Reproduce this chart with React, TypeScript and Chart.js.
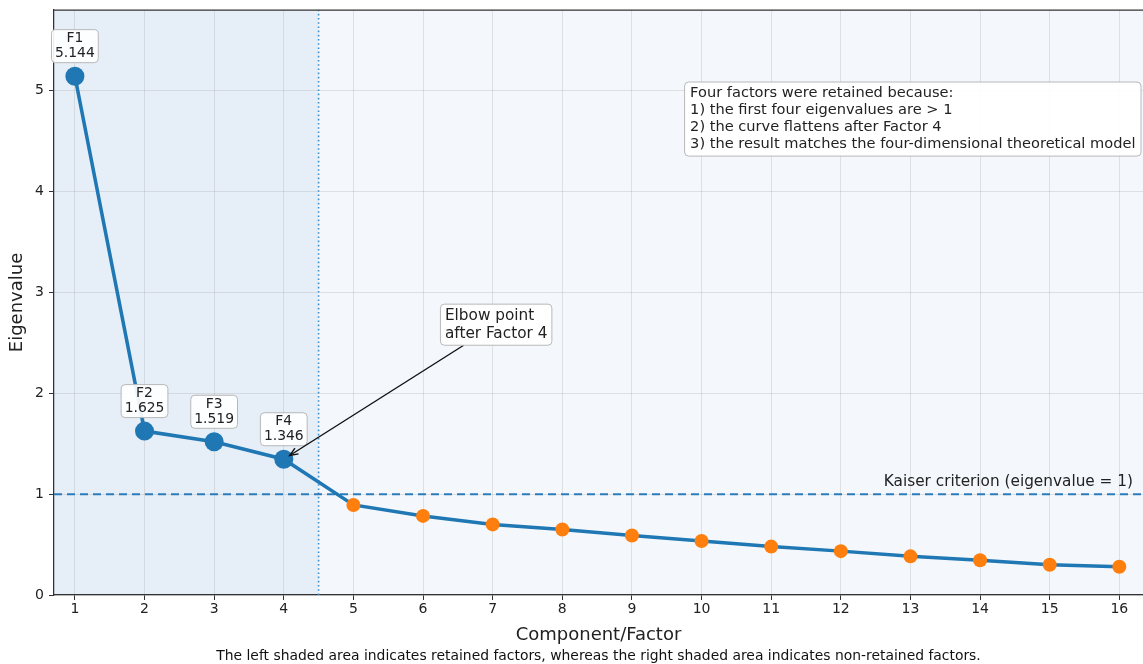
import React, { useEffect, useRef } from "react";
import { Chart, registerables } from "chart.js";

Chart.register(...registerables);

// ---------- data ----------
const factors = [1, 2, 3, 4, 5, 6, 7, 8, 9, 10, 11, 12, 13, 14, 15, 16];
const eigenvalues = [5.144, 1.625, 1.519, 1.346, 0.893, 0.784, 0.70, 0.65, 0.59, 0.535, 0.48, 0.435, 0.383, 0.345, 0.30, 0.28];
const retainedCount = 4;
const xTicks = [1, 2, 3, 4, 5, 6, 7, 8, 9, 10, 11, 12, 13, 14, 15, 16];
const yTicks = [0, 1, 2, 3, 4, 5];
const kaiserThreshold = 1;
const retainCutoff = 4.5;
const kaiserLabel = "Kaiser criterion (eigenvalue = 1)";
const elbowLines = ["Elbow point", "after Factor 4"];
const noteLines = [
  "Four factors were retained because:",
  "1) the first four eigenvalues are > 1",
  "2) the curve flattens after Factor 4",
  "3) the result matches the four-dimensional theoretical model",
];
const xTitle = "Component/Factor";
const yTitle = "Eigenvalue";
const caption =
  "The left shaded area indicates retained factors, whereas the right shaded area indicates non-retained factors.";

// ---------- layout / style ----------
const X_MIN = 0.7;
const X_MAX = 16.34;
const Y_MIN = 0;
const Y_MAX = 5.8;
const ELBOW_TEXT_CENTER = { x: 7.05, y: 2.68 };
const FONT = "'DejaVu Sans', 'Liberation Sans', sans-serif";
const BLUE = "#1f77b4";
const ORANGE = "#ff7f0e";

function roundRect(ctx: CanvasRenderingContext2D, x: number, y: number, w: number, h: number, r: number) {
  ctx.beginPath();
  ctx.moveTo(x + r, y);
  ctx.lineTo(x + w - r, y);
  ctx.arcTo(x + w, y, x + w, y + r, r);
  ctx.lineTo(x + w, y + h - r);
  ctx.arcTo(x + w, y + h, x + w - r, y + h, r);
  ctx.lineTo(x + r, y + h);
  ctx.arcTo(x, y + h, x, y + h - r, r);
  ctx.lineTo(x, y + r);
  ctx.arcTo(x, y, x + r, y, r);
  ctx.closePath();
}

function drawBox(ctx: CanvasRenderingContext2D, x: number, y: number, w: number, h: number) {
  roundRect(ctx, x, y, w, h, 4);
  ctx.fillStyle = "rgba(255,255,255,0.92)";
  ctx.fill();
  ctx.strokeStyle = "#b8b8b8";
  ctx.lineWidth = 1;
  ctx.stroke();
}

const decorPlugin = {
  id: "decor",
  beforeDraw(chart: any) {
    const { ctx, chartArea: ca } = chart;
    const x = chart.scales.x;
    ctx.save();
    ctx.fillStyle = "#ffffff";
    ctx.fillRect(0, 0, chart.width, chart.height);
    const cx = x.getPixelForValue(retainCutoff);
    ctx.fillStyle = "#e6eef7";
    ctx.fillRect(ca.left, ca.top, cx - ca.left, ca.bottom - ca.top);
    ctx.fillStyle = "#f4f8fc";
    ctx.fillRect(cx, ca.top, ca.right - cx, ca.bottom - ca.top);
    ctx.restore();
  },
  afterDraw(chart: any) {
    const { ctx, chartArea: ca } = chart;
    const xs = chart.scales.x;
    const ys = chart.scales.y;
    ctx.save();

    // top spine
    ctx.strokeStyle = "#333";
    ctx.lineWidth = 1.25;
    ctx.beginPath();
    ctx.moveTo(ca.left, ca.top);
    ctx.lineTo(ca.right, ca.top);
    ctx.stroke();

    // Kaiser label
    ctx.font = `15.3px ${FONT}`;
    ctx.fillStyle = "#222";
    ctx.textAlign = "right";
    ctx.textBaseline = "middle";
    ctx.fillText(kaiserLabel, ca.right - 10, ys.getPixelForValue(kaiserThreshold) - 12.5);

    // F labels
    ctx.font = `13.9px ${FONT}`;
    for (let i = 0; i < retainedCount; i++) {
      const px = xs.getPixelForValue(factors[i]);
      const py = ys.getPixelForValue(eigenvalues[i]);
      const lines = [`F${factors[i]}`, eigenvalues[i].toFixed(3)];
      const lh = 15;
      const w = Math.max(...lines.map((l) => ctx.measureText(l).width)) + 7;
      const h = lines.length * lh + 3;
      const bottom = py - 13.5;
      const top = bottom - h;
      drawBox(ctx, px - w / 2, top, w, h);
      ctx.fillStyle = "#222";
      ctx.textAlign = "center";
      ctx.textBaseline = "middle";
      lines.forEach((l, k) => ctx.fillText(l, px, top + 1.5 + lh / 2 + k * lh));
    }

    // Elbow annotation
    ctx.font = `15.3px ${FONT}`;
    {
      const lh = 18.3;
      const cx = xs.getPixelForValue(ELBOW_TEXT_CENTER.x);
      const cy = ys.getPixelForValue(ELBOW_TEXT_CENTER.y);
      const w = Math.max(...elbowLines.map((l) => ctx.measureText(l).width)) + 9;
      const h = elbowLines.length * lh + 4.5;
      const bx = cx - w / 2;
      const by = cy - h / 2;
      // arrow
      const tx = xs.getPixelForValue(factors[retainedCount - 1]);
      const ty = ys.getPixelForValue(eigenvalues[retainedCount - 1]);
      const dx = tx - cx;
      const dy = ty - cy;
      const t = Math.min(w / 2 / Math.abs(dx), h / 2 / Math.abs(dy));
      const sx = cx + dx * t;
      const sy = cy + dy * t;
      const len = Math.hypot(dx, dy);
      const ux = dx / len;
      const uy = dy / len;
      const ex = tx - ux * 7;
      const ey = ty - uy * 7;
      ctx.strokeStyle = "#111";
      ctx.lineWidth = 1.4;
      ctx.beginPath();
      ctx.moveTo(sx, sy);
      ctx.lineTo(ex, ey);
      ctx.stroke();
      const ang = Math.atan2(uy, ux);
      const hl = 9;
      ctx.beginPath();
      ctx.moveTo(ex - hl * Math.cos(ang - 0.38), ey - hl * Math.sin(ang - 0.38));
      ctx.lineTo(ex, ey);
      ctx.lineTo(ex - hl * Math.cos(ang + 0.38), ey - hl * Math.sin(ang + 0.38));
      ctx.stroke();

      drawBox(ctx, bx, by, w, h);
      ctx.fillStyle = "#222";
      ctx.textAlign = "left";
      ctx.textBaseline = "middle";
      elbowLines.forEach((l, k) => ctx.fillText(l, bx + 4.5, by + 2.25 + lh / 2 + k * lh));
    }

    // Note box
    ctx.font = `14.6px ${FONT}`;
    {
      const lh = 16.9;
      const w = Math.max(...noteLines.map((l) => ctx.measureText(l).width)) + 11;
      const h = noteLines.length * lh + 6.5;
      const right = ca.right - 2;
      const top = ca.top + 72;
      const left = right - w;
      drawBox(ctx, left, top, w, h);
      ctx.fillStyle = "#222";
      ctx.textAlign = "left";
      ctx.textBaseline = "middle";
      noteLines.forEach((l, k) => ctx.fillText(l, left + 5.5, top + 3.25 + lh / 2 + k * lh));
    }

    // caption
    ctx.font = `13.9px ${FONT}`;
    ctx.fillStyle = "#111";
    ctx.textAlign = "center";
    ctx.textBaseline = "middle";
    ctx.fillText(caption, (ca.left + ca.right) / 2, 656);

    ctx.restore();
  },
};

export default function App() {
  const ref = useRef<HTMLCanvasElement | null>(null);

  useEffect(() => {
    if (!ref.current) return;
    Chart.defaults.font.family = FONT;
    const mainData = eigenvalues.map((v, i) => ({ x: factors[i], y: v }));
    const chart = new Chart(ref.current, {
      type: "scatter",
      data: {
        datasets: [
          {
            data: mainData,
            showLine: true,
            borderColor: BLUE,
            borderWidth: 3.5,
            pointRadius: eigenvalues.map((_, i) => (i < retainedCount ? 9.5 : 7)),
            pointHoverRadius: eigenvalues.map((_, i) => (i < retainedCount ? 9.5 : 7)),
            pointBackgroundColor: eigenvalues.map((_, i) => (i < retainedCount ? BLUE : ORANGE)),
            pointBorderWidth: 0,
            order: 0,
          } as any,
          {
            data: [
              { x: X_MIN, y: kaiserThreshold },
              { x: X_MAX, y: kaiserThreshold },
            ],
            showLine: true,
            borderColor: "#2c7cbc",
            borderWidth: 2,
            borderDash: [8, 5],
            pointRadius: 0,
            order: 1,
          } as any,
          {
            data: [
              { x: retainCutoff, y: Y_MIN },
              { x: retainCutoff, y: Y_MAX },
            ],
            showLine: true,
            borderColor: "#3a8fd0",
            borderWidth: 1.6,
            borderDash: [1.6, 2.6],
            pointRadius: 0,
            order: 2,
          } as any,
        ],
      },
      options: {
        animation: false,
        responsive: false,
        events: [],
        layout: { autoPadding: false, padding: { top: 10, right: 0, bottom: 0, left: 0 } },
        plugins: { legend: { display: false }, tooltip: { enabled: false } },
        scales: {
          x: {
            type: "linear",
            min: X_MIN,
            max: X_MAX,
            afterBuildTicks: (s: any) => {
              s.ticks = xTicks.map((v) => ({ value: v }));
            },
            afterFit: (s: any) => {
              s.height = 69;
              s.paddingRight = 0;
              s.paddingLeft = 0;
            },
            grid: {
              color: "rgba(170,170,170,0.3)",
              tickColor: "#333",
              tickLength: 5,
              lineWidth: 1,
            },
            border: { color: "#333", width: 1.25 },
            ticks: { color: "#222", font: { size: 14, family: FONT }, padding: 1, maxRotation: 0 },
            title: {
              display: true,
              text: xTitle,
              color: "#222",
              font: { size: 18, family: FONT },
              padding: { top: 0, bottom: 18 },
            },
          },
          y: {
            type: "linear",
            min: Y_MIN,
            max: Y_MAX,
            afterBuildTicks: (s: any) => {
              s.ticks = yTicks.map((v) => ({ value: v }));
            },
            afterFit: (s: any) => {
              s.width = 54;
              s.paddingTop = 0;
              s.paddingBottom = 0;
            },
            grid: {
              color: "rgba(170,170,170,0.3)",
              tickColor: "#333",
              tickLength: 5,
              lineWidth: 1,
            },
            border: { color: "#333", width: 1.25 },
            ticks: { color: "#222", font: { size: 14, family: FONT }, padding: 5 },
            title: {
              display: true,
              text: yTitle,
              color: "#222",
              font: { size: 18, family: FONT },
              padding: { top: 7, bottom: 0 },
            },
          },
        },
      },
      plugins: [decorPlugin],
    });
    return () => chart.destroy();
  }, []);

  return (
    <div style={{ position: "fixed", left: 0, top: 0, width: 1143, height: 664, background: "#fff" }}>
      <canvas ref={ref} width={1143} height={664} style={{ display: "block" }} />
    </div>
  );
}
